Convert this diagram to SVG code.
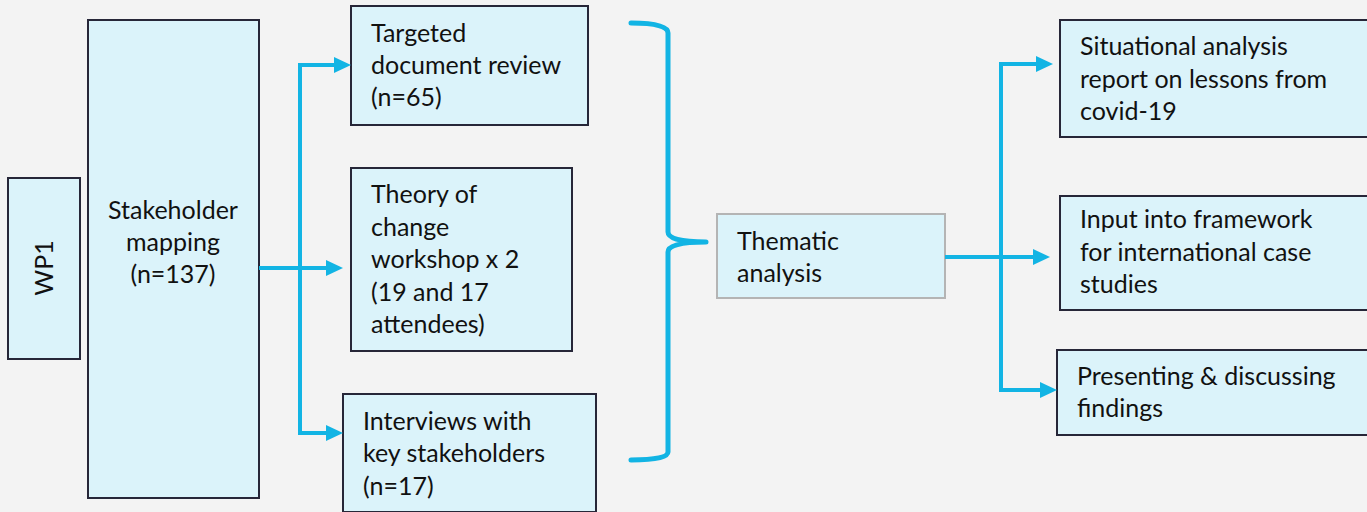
<svg xmlns="http://www.w3.org/2000/svg" width="1367" height="512" viewBox="0 0 1367 512">
<style>
.bg{fill:#f3f3f3}
.box{fill:#dbf3fa;stroke:#262638;stroke-width:2}
.box2{fill:#dbf3fa;stroke:#b4b4b4;stroke-width:2}
.t{font-family:Lato,"Liberation Sans",sans-serif;font-size:25px;fill:#111}
.c{fill:none;stroke:#12b4e4;stroke-width:4}
.br{fill:none;stroke:#12b4e4;stroke-width:5;stroke-linecap:round;stroke-linejoin:round}
</style>
<defs>
<marker id="ah" markerUnits="userSpaceOnUse" markerWidth="17" markerHeight="16" refX="7" refY="8" orient="auto">
<path d="M0,0 L17,8 L0,16 z" fill="#12b4e4"/>
</marker>
</defs>
<rect class="bg" x="0" y="0" width="1367" height="512"/>
<g id="wp1">
<rect class="box" x="8" y="178" width="72" height="181"/>
<text class="t" transform="translate(53,268) rotate(-90)" text-anchor="middle">WP1</text>
</g>
<g id="stakeholder">
<rect class="box" x="88" y="20" width="171" height="478"/>
<text class="t" x="173" y="219" text-anchor="middle">Stakeholder</text>
<text class="t" x="173" y="251" text-anchor="middle">mapping</text>
<text class="t" x="173" y="283" text-anchor="middle">(n=137)</text>
</g>
<g id="targeted">
<rect class="box" x="351" y="6" width="237" height="119"/>
<text class="t" x="371" y="42">Targeted</text>
<text class="t" x="371" y="74">document review</text>
<text class="t" x="371" y="106">(n=65)</text>
</g>
<g id="theory">
<rect class="box" x="351" y="168" width="221" height="183"/>
<text class="t" x="371" y="203">Theory of</text>
<text class="t" x="371" y="236">change</text>
<text class="t" x="371" y="268">workshop x 2</text>
<text class="t" x="371" y="301">(19 and 17</text>
<text class="t" x="371" y="333">attendees)</text>
</g>
<g id="interviews">
<rect class="box" x="343" y="394" width="253" height="118"/>
<text class="t" x="363" y="430">Interviews with</text>
<text class="t" x="363" y="462">key stakeholders</text>
<text class="t" x="363" y="495">(n=17)</text>
</g>
<g id="thematic">
<rect class="box2" x="717" y="214" width="228" height="84"/>
<text class="t" x="737" y="250">Thematic</text>
<text class="t" x="737" y="282">analysis</text>
</g>
<g id="situational">
<rect class="box" x="1060" y="20" width="308" height="117"/>
<text class="t" x="1080" y="55">Situational analysis</text>
<text class="t" x="1080" y="88">report on lessons from</text>
<text class="t" x="1080" y="120">covid-19</text>
</g>
<g id="input">
<rect class="box" x="1060" y="196" width="308" height="114"/>
<text class="t" x="1080" y="228">Input into framework</text>
<text class="t" x="1080" y="261">for international case</text>
<text class="t" x="1080" y="293">studies</text>
</g>
<g id="presenting">
<rect class="box" x="1057" y="350" width="311" height="85"/>
<text class="t" x="1077" y="385">Presenting &amp; discussing</text>
<text class="t" x="1077" y="417">findings</text>
</g>
<g id="connectors">
<path class="c" d="M300,433 L300,65 L341,65" marker-end="url(#ah)"/>
<path class="c" d="M300,265 L300,433 L333,433" marker-end="url(#ah)"/>
<path class="c" d="M259,268 L333,268" marker-end="url(#ah)"/>
<path class="br" d="M631,23 Q668,23 668,33 L668,232 Q668,242 706,242 Q668,242 668,252 L668,452 Q668,460 631,460"/>
<path class="c" d="M1001,390 L1001,64 L1043,64" marker-end="url(#ah)"/>
<path class="c" d="M1001,257 L1001,390 L1047,390" marker-end="url(#ah)"/>
<path class="c" d="M945,257 L1040,257" marker-end="url(#ah)"/>
</g>
</svg>
